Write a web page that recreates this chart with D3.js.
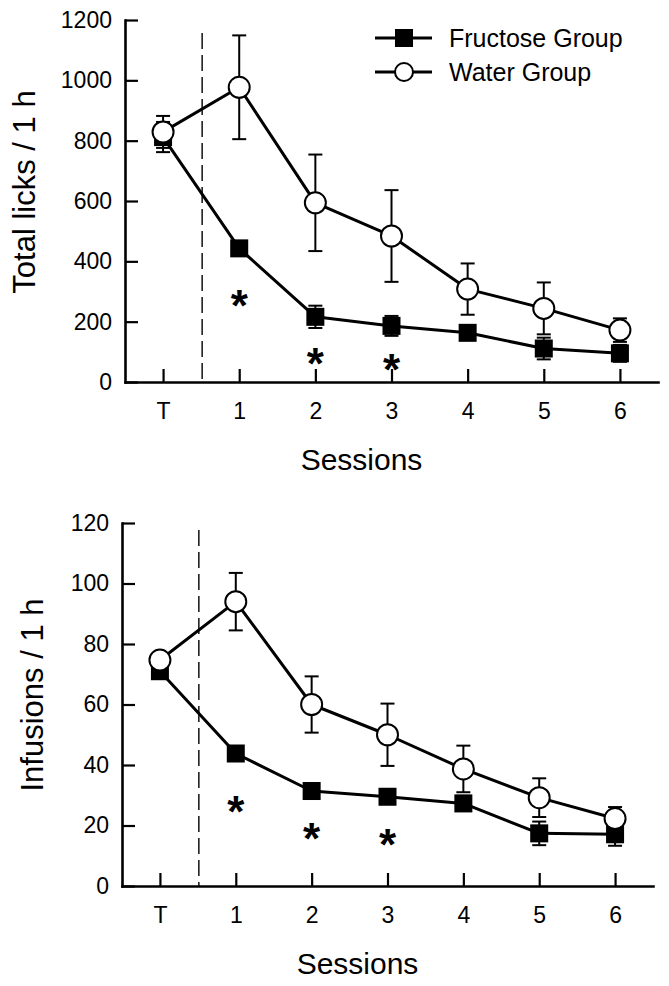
<!DOCTYPE html>
<html>
<head>
<meta charset="utf-8">
<script src="https://cdn.jsdelivr.net/npm/d3@7"></script>
<style>
html,body{margin:0;padding:0;background:#fff;}
svg{display:block;font-family:"Liberation Sans",Arial,sans-serif;}
</style>
</head>
<body>
<svg id="chart" width="669" height="986"></svg>
<script>
// ---------- data ----------
const sessions = ["T", "1", "2", "3", "4", "5", "6"];

const licksFructose    = [812, 443, 216, 186, 163, 111, 95];
const licksFructoseErr = [50, 22, 37, 33, 15, 36, 28];
const licksWater       = [829, 977, 594, 484, 308, 244, 172];
const licksWaterErr    = [53, 172, 160, 152, 85, 86, 39];
const licksTicks       = [0, 200, 400, 600, 800, 1000, 1200];
const licksStarSessions = ["1", "2", "3"];
const licksStarValues   = [290, 98, 76];

const infFructose    = [71, 43.8, 31.4, 29.5, 27.3, 17.4, 17.1];
const infFructoseErr = [2, 2, 2, 2, 2.5, 3.9, 3.8];
const infWater       = [74.7, 94, 60, 50, 38.7, 29.2, 22.3];
const infWaterErr    = [1.5, 9.5, 9.3, 10.3, 7.7, 6.4, 3.8];
const infTicks       = [0, 20, 40, 60, 80, 100, 120];
const infStarSessions = ["1", "2", "3"];
const infStarValues   = [28.2, 19.4, 17.3];

const seriesNames = ["Fructose Group", "Water Group"];

// ---------- drawing ----------
const svg = d3.select("#chart");

function panel(cfg) {
  const g = svg.append("g");
  const x = d3.scalePoint().domain(sessions).range([cfg.left, cfg.right]).padding(0.5);
  const y = d3.scaleLinear().domain([0, cfg.max]).range([cfg.bottom, cfg.top]);

  // axes
  const yAx = g.append("g").attr("transform", `translate(${cfg.left},0)`)
    .call(d3.axisLeft(y).tickValues(cfg.ticks).tickFormat(d3.format("d"))
      .tickSizeInner(-13).tickSizeOuter(0).tickPadding(13));
  const xAx = g.append("g").attr("transform", `translate(0,${cfg.bottom})`)
    .call(d3.axisBottom(x).tickSizeInner(-13).tickSizeOuter(0).tickPadding(21));
  [yAx, xAx].forEach(a => {
    a.attr("font-size", 23).attr("font-family", "Liberation Sans, Arial, sans-serif");
    a.selectAll("path.domain").attr("stroke", "#000").attr("stroke-width", 2.6).attr("stroke-linecap", "square");
    a.selectAll(".tick line").attr("stroke", "#000").attr("stroke-width", 2.2);
    a.selectAll("text").attr("font-size", 23).attr("fill", "#000");
  });

  // dashed separator between T and session 1
  const xd = (x("T") + x("1")) / 2 + 1;
  g.append("line").attr("x1", xd).attr("x2", xd).attr("y1", cfg.dashTop).attr("y2", cfg.bottom)
    .attr("stroke", "#000").attr("stroke-width", 1.4).attr("stroke-dasharray", "16,6");

  // axis titles
  g.append("text").attr("transform", `translate(${cfg.ylabX},${cfg.ylabY}) rotate(-90)`)
    .attr("text-anchor", "middle").attr("font-size", 31).text(cfg.ylabel);
  g.append("text").attr("x", (cfg.left + cfg.right) / 2 - 30).attr("y", cfg.xlabY)
    .attr("text-anchor", "middle").attr("font-size", 30).text("Sessions");

  const groups = [
    {vals: cfg.fru, err: cfg.fruErr},
    {vals: cfg.wat, err: cfg.watErr}
  ];
  const line = d3.line().x((d, i) => x(sessions[i])).y(d => y(d));

  // error bars
  groups.forEach(gr => {
    const eb = g.append("g").attr("stroke", "#000").attr("stroke-width", 2);
    gr.vals.forEach((v, i) => {
      const cx = x(sessions[i]);
      const hi = y(v + gr.err[i]), lo = y(v - gr.err[i]);
      eb.append("line").attr("x1", cx).attr("x2", cx).attr("y1", hi).attr("y2", lo);
      eb.append("line").attr("x1", cx - 7).attr("x2", cx + 7).attr("y1", hi).attr("y2", hi);
      eb.append("line").attr("x1", cx - 7).attr("x2", cx + 7).attr("y1", lo).attr("y2", lo);
    });
  });
  // lines
  groups.forEach(gr => {
    g.append("path").datum(gr.vals).attr("d", line).attr("fill", "none")
      .attr("stroke", "#000").attr("stroke-width", 3).attr("stroke-linejoin", "round");
  });
  // markers
  g.selectAll(".sq").data(cfg.fru).enter().append("rect")
    .attr("x", (d, i) => x(sessions[i]) - 9).attr("y", d => y(d) - 9)
    .attr("width", 18).attr("height", 18).attr("fill", "#000");
  g.selectAll(".ci").data(cfg.wat).enter().append("circle")
    .attr("cx", (d, i) => x(sessions[i])).attr("cy", d => y(d)).attr("r", 10.5)
    .attr("fill", "#fff").attr("stroke", "#000").attr("stroke-width", 2);

  // significance asterisks
  const fs = 44;
  g.selectAll(".star").data(cfg.starVals).enter().append("text")
    .attr("x", (d, i) => x(cfg.starSessions[i])).attr("y", d => y(d) + 0.6 * fs)
    .attr("text-anchor", "middle").attr("font-size", fs).attr("font-weight", "bold").text("*");

  // legend
  if (cfg.legend) {
    const lg = g.append("g");
    seriesNames.forEach((name, k) => {
      const ly = 38 + k * 34;
      lg.append("line").attr("x1", 375).attr("x2", 432).attr("y1", ly).attr("y2", ly)
        .attr("stroke", "#000").attr("stroke-width", 3);
      if (k === 0) {
        lg.append("rect").attr("x", 404 - 9).attr("y", ly - 9).attr("width", 18).attr("height", 18).attr("fill", "#000");
      } else {
        lg.append("circle").attr("cx", 404).attr("cy", ly).attr("r", 9)
          .attr("fill", "#fff").attr("stroke", "#000").attr("stroke-width", 2);
      }
      lg.append("text").attr("x", 449).attr("y", ly + 9).attr("font-size", 25).text(name);
    });
  }
}

panel({
  left: 125, right: 658, top: 20, bottom: 382, max: 1200, ticks: licksTicks,
  fru: licksFructose, fruErr: licksFructoseErr, wat: licksWater, watErr: licksWaterErr,
  starSessions: licksStarSessions, starVals: licksStarValues,
  ylabel: "Total licks / 1 h", ylabX: 35, ylabY: 192, xlabY: 470, dashTop: 33, legend: true
});

panel({
  left: 122, right: 653, top: 523, bottom: 886, max: 120, ticks: infTicks,
  fru: infFructose, fruErr: infFructoseErr, wat: infWater, watErr: infWaterErr,
  starSessions: infStarSessions, starVals: infStarValues,
  ylabel: "Infusions / 1 h", ylabX: 43, ylabY: 695, xlabY: 974, dashTop: 530, legend: false
});
</script>
</body>
</html>
